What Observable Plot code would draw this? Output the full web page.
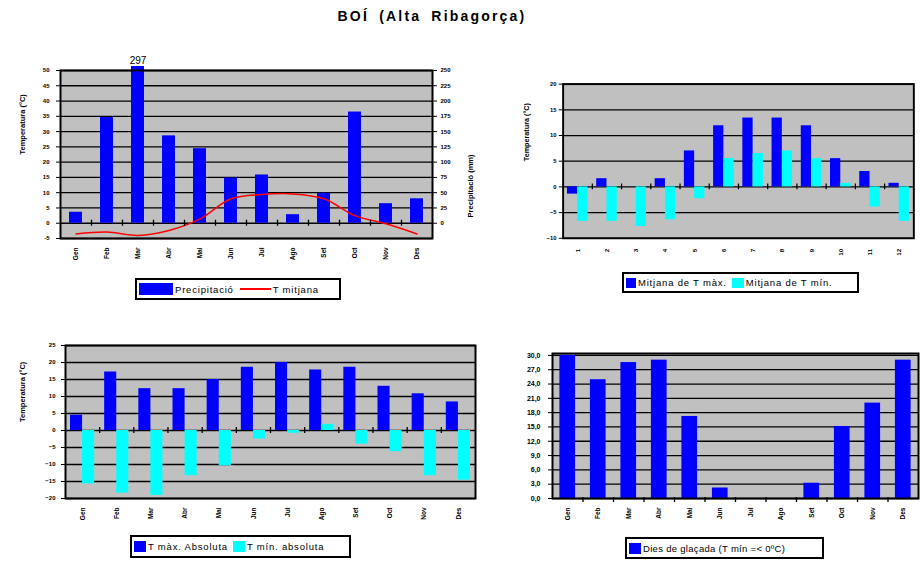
<!DOCTYPE html>
<html>
<head>
<meta charset="utf-8">
<script src="https://cdn.jsdelivr.net/npm/d3@7"></script>
<script src="https://cdn.jsdelivr.net/npm/@observablehq/plot@0.6"></script>
<style>
  html, body { margin: 0; padding: 0; background: #fff; overflow: hidden; width: 923px; height: 564px; }
  body { position: relative; font-family: "Liberation Sans", Arial, sans-serif; }
  .abs { position: absolute; }
  .title { left: 232px; width: 400px; top: 8px; text-align: center; font-weight: bold; font-size: 14px; letter-spacing: 2.2px; word-spacing: 4px; }
  .legend { position: absolute; border: 2px solid #000; background: #fff; box-sizing: border-box;
            display: flex; align-items: center; font-size: 9.5px; letter-spacing: 0.8px; padding-left: 2px; white-space: nowrap; }
  .sw { display: inline-block; margin-right: 2px; }
  .lt { margin-right: 5px; }
</style>
</head>
<body>
<div class="abs title">BOÍ (Alta Ribagorça)</div>
<div id="p1" class="abs" style="left:0px;top:50px"></div>
<div id="p2" class="abs" style="left:500px;top:74px"></div>
<div id="p3" class="abs" style="left:0px;top:335px"></div>
<div id="p4" class="abs" style="left:500px;top:343px"></div>

<div class="legend" style="left:135px;top:278px;width:206px;height:22px">
  <span class="sw" style="width:34px;height:12px;background:#0000ff"></span><span class="lt" style="margin-right:6px">Precipitació</span>
  <span class="sw" style="width:31px;height:2px;background:#ff0000"></span><span class="lt">T mitjana</span>
</div>
<div class="legend" style="left:622px;top:272px;width:237px;height:21px">
  <span class="sw" style="width:10px;height:10px;background:#0000ff"></span><span class="lt">Mitjana de T màx.</span>
  <span class="sw" style="width:12px;height:10px;background:#00ffff"></span><span class="lt">Mitjana de T mín.</span>
</div>
<div class="legend" style="left:130px;top:535px;width:221px;height:23px">
  <span class="sw" style="width:12px;height:11px;background:#0000ff"></span><span class="lt">T màx. Absoluta</span>
  <span class="sw" style="width:12px;height:11px;background:#00ffff"></span><span class="lt">T mín. absoluta</span>
</div>
<div class="legend" style="left:625px;top:537px;width:199px;height:22px;letter-spacing:0.3px">
  <span class="sw" style="width:12px;height:11px;background:#0000ff"></span><span class="lt">Dies de glaçada (T mín =&lt; 0ºC)</span>
</div>

<script>
// ---- data ----
const months = ["Gen", "Feb", "Mar", "Abr", "Mai", "Jun", "Jul", "Ago", "Set", "Oct", "Nov", "Des"];
const monthNums = ["1", "2", "3", "4", "5", "6", "7", "8", "9", "10", "11", "12"];
const precip = [18, 173, 297, 143, 122, 74, 79, 14, 49, 182, 32, 40];
const tMean = [-3.5, -2.9, -4.0, -2.4, 1.4, 8.0, 9.4, 9.6, 8.0, 2.5, -0.2, -3.5];
const tMaxMean = [-1.4, 1.6, 0, 1.6, 7.0, 11.9, 13.4, 13.4, 11.9, 5.5, 3.0, 0.7];
const tMinMean = [-6.7, -6.7, -7.7, -6.4, -2.3, 5.5, 6.5, 7.0, 5.5, 0.7, -3.9, -6.7];
const tMaxAbs = [4.5, 17.2, 12.3, 12.3, 15.0, 18.6, 20.0, 17.8, 18.6, 13.0, 10.8, 8.4];
const tMinAbs = [-15.7, -18.4, -19.1, -13.3, -10.4, -2.5, -0.8, 1.8, -4.0, -6.2, -13.3, -14.6];
const frostDays = [30, 24.9, 28.5, 29, 17.2, 2.2, 0, 0, 3.2, 15.1, 20.0, 29];

const tempTicks1 = [-5, 0, 5, 10, 15, 20, 25, 30, 35, 40, 45, 50];
const precipTicks = [0, 25, 50, 75, 100, 125, 150, 175, 200, 225, 250];
const tempTicks2 = [-10, -5, 0, 5, 10, 15, 20];
const tempTicks3 = [-20, -15, -10, -5, 0, 5, 10, 15, 20, 25];
const frostTicks = [0, 3, 6, 9, 12, 15, 18, 21, 24, 27, 30];

const PRECIP_PER_DEG = 5;   // right axis = 5 x left axis
const PRECIP_CAP = 256.5;   // bars above the axis max are cut at the frame

const rows = months.map((m, i) => ({
  i, m, n: monthNums[i], p: precip[i], t: tMean[i],
  tx: tMaxMean[i], tn: tMinMean[i], ax: tMaxAbs[i], an: tMinAbs[i], f: frostDays[i]
}));
const centers = rows.map(d => d.i + 0.5);
const bounds = d3.range(1, 12);

const baseStyle = "font-family:'Liberation Sans',Arial,sans-serif;font-weight:bold;font-size:6px;background:transparent;overflow:visible";
const GRAY = "#c0c0c0", BLUE = "#0000ff", CYAN = "#00ffff";

function xLabels(fmt, pad) {
  return Plot.axisX(centers, {tickFormat: v => fmt[Math.floor(v)], tickRotate: -90, tickSize: 0, tickPadding: pad, fontSize: 6.5, label: null});
}

// ---- panel 1: precipitation + mean temperature ----
const p1 = Plot.plot({
  width: 480, height: 223, marginLeft: 60, marginRight: 48, marginTop: 20, marginBottom: 35,
  style: baseStyle,
  x: {domain: [0, 12], axis: null},
  y: {domain: [-25, 250], axis: null},
  marks: [
    Plot.frame({fill: GRAY}),
    Plot.ruleY(tempTicks1.map(t => t * PRECIP_PER_DEG), {stroke: "#000", strokeWidth: 1.3}),
    Plot.rectY(rows, {x1: "i", x2: d => d.i + 1, y1: 0, y2: d => Math.min(d.p, PRECIP_CAP), fill: BLUE, insetLeft: 9, insetRight: 9}),
    Plot.text(rows.filter(d => d.p > 250), {x: d => d.i + 0.5, y: PRECIP_CAP, text: d => String(d.p), dy: -6, fontSize: 10, fontWeight: "normal"}),
    Plot.line(rows, {x: d => d.i + 0.5, y: d => d.t * PRECIP_PER_DEG, stroke: "#ff0000", strokeWidth: 1.5, curve: "catmull-rom"}),
    Plot.ruleX(bounds, {y1: 0, y2: 0, insetTop: -3, insetBottom: -3, stroke: "#000", strokeWidth: 1.3}),
    Plot.frame({stroke: "#000", strokeWidth: 2}),
    Plot.axisY(tempTicks1.map(t => t * PRECIP_PER_DEG), {anchor: "left", tickFormat: v => v / PRECIP_PER_DEG, tickSize: 4, tickPadding: 7, label: null}),
    Plot.axisY(precipTicks, {anchor: "right", tickSize: 4, tickPadding: 4, label: null}),
    xLabels(months, 9),
    Plot.text(["Temperatura (°C)"], {frameAnchor: "left", dx: -38, rotate: -90, fontSize: 7.5}),
    Plot.text(["Precipitació (mm)"], {frameAnchor: "right", dx: 38, rotate: -90, fontSize: 7.5})
  ]
});
document.getElementById("p1").append(p1);

// ---- panel 2: mean of Tmax / Tmin ----
const p2 = Plot.plot({
  width: 439, height: 200, marginLeft: 65, marginRight: 10, marginTop: 10, marginBottom: 30,
  style: baseStyle,
  x: {domain: [0, 12], axis: null},
  y: {domain: [-10, 20], axis: null},
  marks: [
    Plot.frame({fill: GRAY}),
    Plot.ruleY(tempTicks2, {stroke: "#000", strokeWidth: 1.3}),
    Plot.rectY(rows, {x1: "i", x2: d => d.i + 0.5, y1: 0, y2: "tx", fill: BLUE, insetLeft: 4.5}),
    Plot.rectY(rows, {x1: d => d.i + 0.5, x2: d => d.i + 1, y1: 0, y2: "tn", fill: CYAN, insetRight: 4.5}),
    Plot.ruleX(bounds, {y1: 0, y2: 0, insetTop: -3, insetBottom: -3, stroke: "#000", strokeWidth: 1.3}),
    Plot.frame({stroke: "#000", strokeWidth: 2}),
    Plot.axisY(tempTicks2, {anchor: "left", tickSize: 4, tickPadding: 3, label: null}),
    xLabels(monthNums, 11),
    Plot.text(["Temperatura (°C)"], {frameAnchor: "left", dx: -38, rotate: -90, fontSize: 7.5})
  ]
});
document.getElementById("p2").append(p2);

// ---- panel 3: absolute Tmax / Tmin ----
const p3 = Plot.plot({
  width: 480, height: 195, marginLeft: 65, marginRight: 5, marginTop: 10, marginBottom: 32,
  style: baseStyle,
  x: {domain: [0, 12], axis: null},
  y: {domain: [-20, 25], axis: null},
  marks: [
    Plot.frame({fill: GRAY}),
    Plot.ruleY(tempTicks3, {stroke: "#000", strokeWidth: 1.3}),
    Plot.rectY(rows, {x1: "i", x2: d => d.i + 0.5, y1: 0, y2: "ax", fill: BLUE, insetLeft: 5}),
    Plot.rectY(rows, {x1: d => d.i + 0.5, x2: d => d.i + 1, y1: 0, y2: "an", fill: CYAN, insetRight: 5}),
    Plot.ruleX(bounds, {y1: 0, y2: 0, insetTop: -3, insetBottom: -3, stroke: "#000", strokeWidth: 1.3}),
    Plot.frame({stroke: "#000", strokeWidth: 2}),
    Plot.axisY(tempTicks3, {anchor: "left", tickSize: 4, tickPadding: 6, label: null}),
    xLabels(months, 9),
    Plot.text(["Temperatura (°C)"], {frameAnchor: "left", dx: -43, rotate: -90, fontSize: 7.5})
  ]
});
document.getElementById("p3").append(p3);

// ---- panel 4: frost days ----
const p4 = Plot.plot({
  width: 423, height: 187, marginLeft: 52, marginRight: 5, marginTop: 10, marginBottom: 32,
  style: baseStyle,
  x: {domain: [0, 12], axis: null},
  y: {domain: [0, 30.4], axis: null},
  marks: [
    Plot.frame({fill: GRAY}),
    Plot.ruleY(frostTicks, {stroke: "#000", strokeWidth: 1.3}),
    Plot.rectY(rows, {x1: "i", x2: d => d.i + 1, y1: 0, y2: "f", fill: BLUE, insetLeft: 7.4, insetRight: 7.4}),
    Plot.ruleX(bounds, {y1: 0, y2: 0, insetTop: -1, insetBottom: -4, stroke: "#000", strokeWidth: 1.3}),
    Plot.frame({stroke: "#000", strokeWidth: 2}),
    Plot.axisY(frostTicks, {anchor: "left", tickSize: 4, tickPadding: 8, fontSize: 7, tickFormat: v => v.toFixed(1).replace(".", ","), label: null}),
    xLabels(months, 9)
  ]
});
document.getElementById("p4").append(p4);
</script>
</body>
</html>
